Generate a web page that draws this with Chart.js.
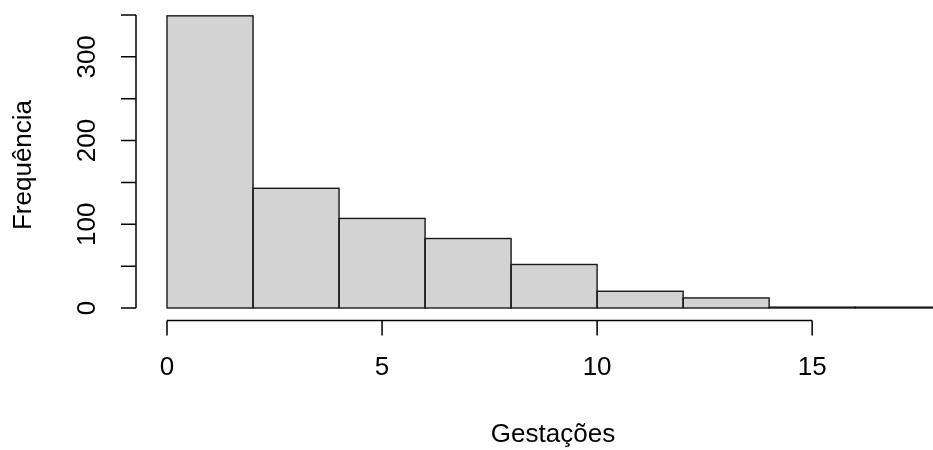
<!DOCTYPE html>
<html>
<head>
<meta charset="utf-8">
<script src="https://cdn.jsdelivr.net/npm/chart.js@4.4.1/dist/chart.umd.min.js"></script>
<style>
  html, body { margin: 0; padding: 0; background: #fff; }
  #wrap { width: 933px; height: 450px; }
</style>
</head>
<body>
<div id="wrap"><canvas id="histChart" width="933" height="450"></canvas></div>
<script>
// histogram bins (width 2) and counts
const binStarts = [0, 2, 4, 6, 8, 10, 12, 14, 16];
const binCounts = [349, 143, 107, 83, 52, 20, 12, 1, 1];
const xTicks = [0, 5, 10, 15];
const yTicks = [0, 50, 100, 150, 200, 250, 300, 350];
const yLabels = [0, 100, 200, 300];
const xTitle = 'Gestações';
const yTitle = 'Frequência';

const FONT = '26px "Liberation Sans", Arial, sans-serif';

const histData = binStarts.map((s, i) => ({ x: s + 1, y: binCounts[i] }));

// outline each bar like R's rect() (stroke centred on the edges)
const barOutline = {
    id: 'barOutline',
    afterDatasetsDraw(chart) {
        const ctx = chart.ctx;
        const area = chart.chartArea;
        ctx.save();
        ctx.beginPath();
        ctx.rect(0, 0, chart.width, chart.height);
        ctx.clip();
        ctx.strokeStyle = '#1a1a1a';
        ctx.lineWidth = 1.4;
        chart.getDatasetMeta(0).data.forEach(bar => {
            const p = bar.getProps(['x', 'y', 'base', 'width'], true);
            ctx.strokeRect(p.x - p.width / 2, p.y, p.width, p.base - p.y);
        });
        ctx.restore();
    }
};

// R style detached axes drawn from the chart scales
const rAxes = {
    id: 'rAxes',
    afterDraw(chart) {
        const ctx = chart.ctx;
        const xs = chart.scales.x;
        const ys = chart.scales.y;
        ctx.save();
        ctx.strokeStyle = '#000';
        ctx.fillStyle = '#000';
        ctx.lineWidth = 1.5;
        ctx.font = FONT;

        // y axis
        const ax = 136;
        ctx.beginPath();
        ctx.moveTo(ax, ys.getPixelForValue(yTicks[0]));
        ctx.lineTo(ax, ys.getPixelForValue(yTicks[yTicks.length - 1]));
        yTicks.forEach(v => {
            const py = ys.getPixelForValue(v);
            ctx.moveTo(ax, py);
            ctx.lineTo(ax - 15, py);
        });
        ctx.stroke();
        ctx.textAlign = 'center';
        ctx.textBaseline = 'middle';
        yLabels.forEach(v => {
            ctx.save();
            ctx.translate(88, ys.getPixelForValue(v));
            ctx.rotate(-Math.PI / 2);
            ctx.fillText(String(v), 0, 0);
            ctx.restore();
        });

        // x axis
        const ay = 320.5;
        ctx.beginPath();
        ctx.moveTo(xs.getPixelForValue(xTicks[0]), ay);
        ctx.lineTo(xs.getPixelForValue(xTicks[xTicks.length - 1]), ay);
        xTicks.forEach(v => {
            const px = xs.getPixelForValue(v);
            ctx.moveTo(px, ay);
            ctx.lineTo(px, ay + 15);
        });
        ctx.stroke();
        xTicks.forEach(v => {
            ctx.fillText(String(v), xs.getPixelForValue(v), 368);
        });

        // titles
        ctx.fillText(xTitle, 553, 435);
        ctx.save();
        ctx.translate(24, 165);
        ctx.rotate(-Math.PI / 2);
        ctx.fillText(yTitle, 0, 0);
        ctx.restore();

        ctx.restore();
    }
};

new Chart(document.getElementById('histChart').getContext('2d'), {
    type: 'bar',
    data: {
        datasets: [{
            data: histData,
            backgroundColor: '#d3d3d3',
            borderWidth: 0,
            barPercentage: 1,
            categoryPercentage: 1
        }]
    },
    options: {
        responsive: false,
        animation: false,
        layout: { padding: { left: 167, right: 0, top: 15, bottom: 142 } },
        plugins: { legend: { display: false }, tooltip: { enabled: false } },
        scales: {
            x: {
                type: 'linear', min: 0, max: 17.81, offset: false, display: false,
                grid: { offset: false },
                // only the labelled ticks, so the bar width follows the bin spacing
                afterBuildTicks: (s) => { s.ticks = xTicks.map(v => ({ value: v })); }
            },
            y: { min: 0, max: 350, display: false }
        }
    },
    plugins: [barOutline, rAxes]
});
</script>
</body>
</html>
